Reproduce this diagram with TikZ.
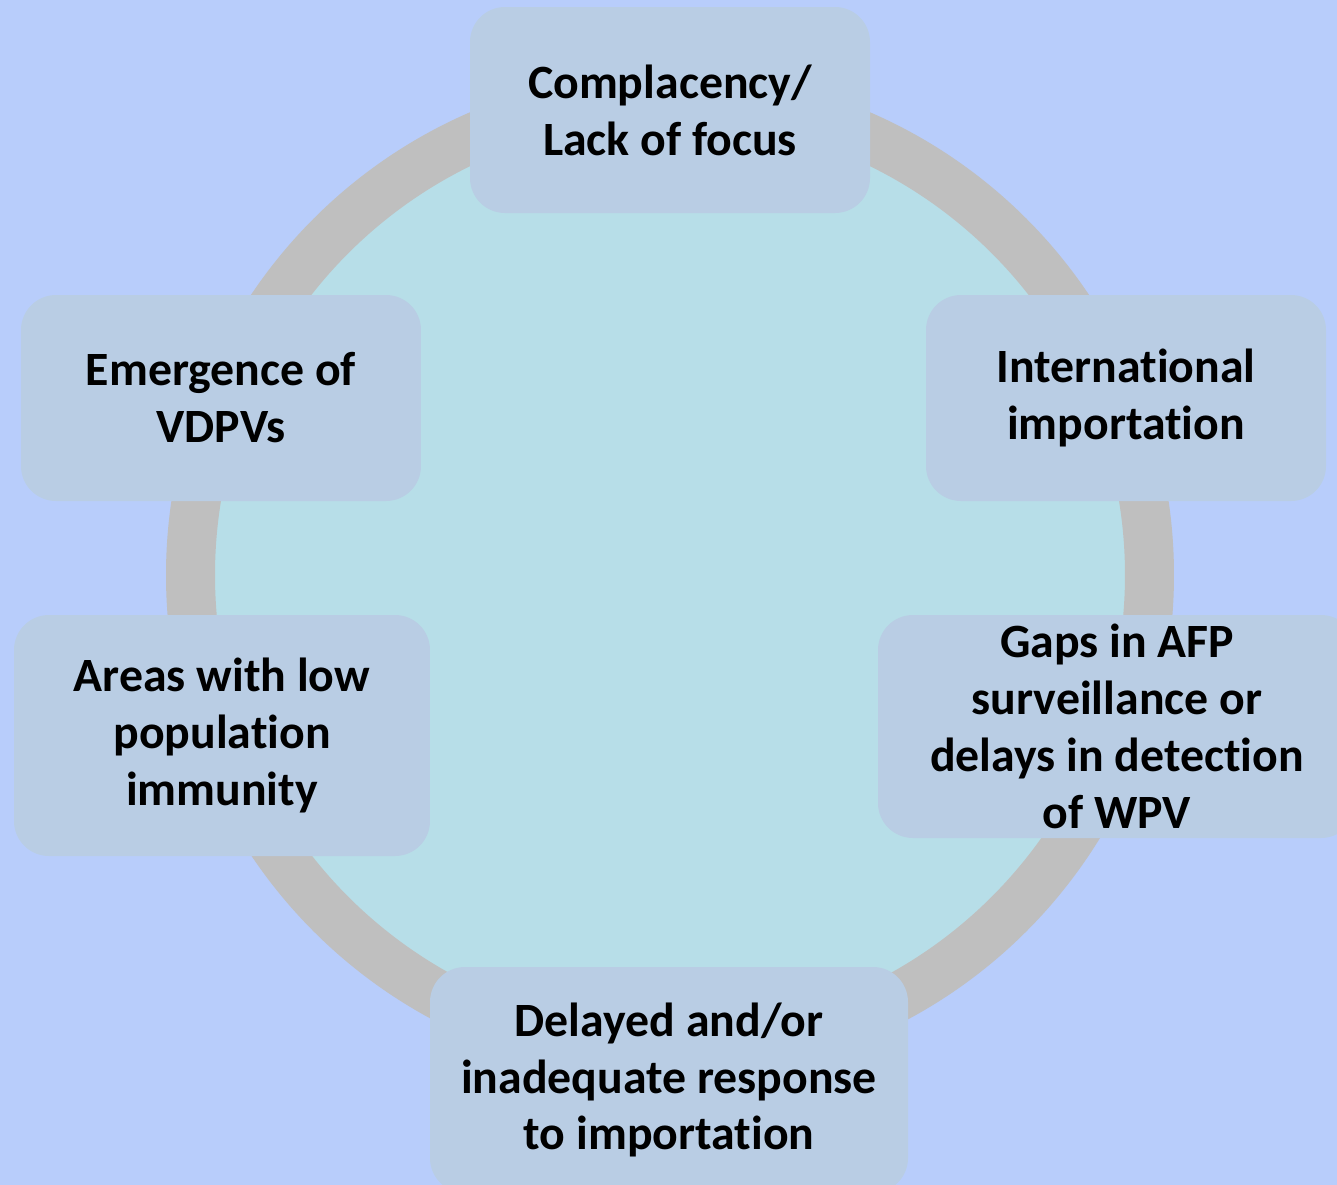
\documentclass[tikz,border=0pt]{standalone}
\usepackage{fontspec}
\setmainfont{Carlito}[Ligatures=NoCommon]
\definecolor{pagebg}{HTML}{B8CDFB}
\definecolor{discfill}{HTML}{B7DEE8}
\definecolor{ringgray}{HTML}{BFBFBF}
\definecolor{boxfill}{HTML}{B9CDE4}
\tikzset{
    factor/.style={rectangle,rounded corners=3.5mm,fill=boxfill,align=center,inner sep=0pt,
        font=\fontsize{13.6}{16.2}\selectfont\bfseries},
    ring/.style={draw=ringgray,fill=discfill,line width=4.9mm}
}

\begin{document}
\begin{tikzpicture}[x=0.1mm,y=-0.1mm]

    \clip (0,0) rectangle (1337,1185);
    \fill[pagebg] (0,0) rectangle (1337,1185);

    \coordinate (hub) at (670,575);
    \draw[ring] (hub) circle[radius=47.95mm];

    \node[factor,minimum width=40mm,minimum height=20.6mm]   (complacency) at (670,110)    {Complacency/\\Lack of focus};
    \node[factor,minimum width=40mm,minimum height=20.6mm]   (importation) at (1126,398)   {International\\importation};
    \node[factor,minimum width=47.8mm,minimum height=22.3mm] (gaps)        at (1117,726.5) {Gaps in AFP\\surveillance or\\delays in detection\\of WPV};
    \node[factor,minimum width=47.8mm,minimum height=22.6mm] (response)    at (669,1080)   {Delayed and/or\\inadequate response\\to importation};
    \node[factor,minimum width=41.6mm,minimum height=24.1mm] (immunity)    at (222,735.5)  {Areas with low\\population\\immunity};
    \node[factor,minimum width=40mm,minimum height=20.6mm]   (vdpv)        at (221,398)    {Emergence of\\VDPVs};

\end{tikzpicture}
\end{document}
